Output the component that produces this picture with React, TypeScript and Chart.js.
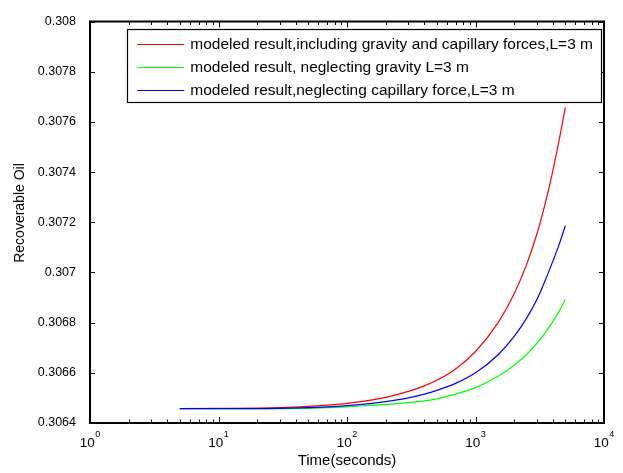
import React, { useEffect, useRef } from "react";
import { Chart, registerables } from "chart.js";

Chart.register(...registerables);

// ---- data ----
const timeSeconds = [5, 10, 20, 30, 50, 70, 100, 150, 200, 300, 400, 500, 700, 1000, 1500, 2000, 2500, 3000, 3500, 4000, 4500, 5000];

const oilFull = [
  0.306457, 0.306458, 0.306459, 0.306461, 0.306466, 0.306471, 0.306478, 0.30649, 0.306502, 0.306526, 0.306548,
  0.30657, 0.306615, 0.306685, 0.3068, 0.306915, 0.307032, 0.307152, 0.307278, 0.307406, 0.307533, 0.307658,
];

const oilNoGravity = [
  0.306457, 0.306457, 0.306457, 0.306457, 0.306458, 0.306461, 0.306464, 0.30647, 0.306474, 0.306481, 0.306488,
  0.306496, 0.306515, 0.306541, 0.306586, 0.30663, 0.306673, 0.306717, 0.306761, 0.306805, 0.306848, 0.306892,
];

const oilNoCapillary = [
  0.306457, 0.306457, 0.306457, 0.306458, 0.306461, 0.306464, 0.306469, 0.306477, 0.306485, 0.3065, 0.306515,
  0.30653, 0.306558, 0.3066, 0.306672, 0.306745, 0.306818, 0.306891, 0.30697, 0.307045, 0.307115, 0.307186,
];

const seriesLabels = [
  "modeled result,including gravity and capillary forces,L=3 m",
  "modeled result, neglecting gravity L=3 m",
  "modeled result,neglecting capillary force,L=3 m",
];
const seriesColors = ["#ff0000", "#00ff00", "#0000ff"];

const xDecadeExponents = [0, 1, 2, 3, 4];
const yMin = 0.3064;
const yMax = 0.308;
const yStep = 0.0002;
const xTitle = "Time(seconds)";
const yTitle = "Recoverable Oil";

const FONT = '"Liberation Sans", Arial, Helvetica, sans-serif';

const framePlugin = {
  id: "matlabFrame",
  afterDraw(chart: any) {
    const { ctx, chartArea: a, scales } = chart;
    const xs = scales.x;
    const ys = scales.y;
    ctx.save();

    // inward tick marks
    ctx.strokeStyle = "#000";
    ctx.lineWidth = 1;
    ctx.beginPath();
    for (const t of ys.ticks) {
      const y = Math.round(ys.getPixelForValue(t.value)) + 0.5;
      ctx.moveTo(a.left, y);
      ctx.lineTo(a.left + 5, y);
      ctx.moveTo(a.right, y);
      ctx.lineTo(a.right - 5, y);
    }
    for (let i = 0; i < xDecadeExponents.length; i++) {
      const e = xDecadeExponents[i];
      const base = Math.pow(10, e);
      const xm = Math.round(xs.getPixelForValue(base)) + 0.5;
      ctx.moveTo(xm, a.bottom);
      ctx.lineTo(xm, a.bottom - 6);
      ctx.moveTo(xm, a.top);
      ctx.lineTo(xm, a.top + 6);
      if (i < xDecadeExponents.length - 1) {
        for (let m = 2; m <= 9; m++) {
          const x = Math.round(xs.getPixelForValue(base * m)) + 0.5;
          ctx.moveTo(x, a.bottom);
          ctx.lineTo(x, a.bottom - 3.5);
          ctx.moveTo(x, a.top);
          ctx.lineTo(x, a.top + 3.5);
        }
      }
    }
    ctx.stroke();

    // axes box
    ctx.lineWidth = 2;
    ctx.strokeRect(a.left, a.top, a.right - a.left, a.bottom - a.top);

    // x tick labels 10^e
    ctx.fillStyle = "#000";
    ctx.textAlign = "left";
    ctx.textBaseline = "alphabetic";
    for (const e of xDecadeExponents) {
      const x = xs.getPixelForValue(Math.pow(10, e));
      ctx.font = `13.5px ${FONT}`;
      const w10 = ctx.measureText("10").width;
      ctx.font = `9px ${FONT}`;
      const wE = ctx.measureText(String(e)).width;
      const start = x - (w10 + wE + 0.5) / 2;
      ctx.font = `13.5px ${FONT}`;
      ctx.fillText("10", start, 447);
      ctx.font = `9px ${FONT}`;
      ctx.fillText(String(e), start + w10 + 0.5, 437);
    }

    // x title
    ctx.font = `15px ${FONT}`;
    ctx.textAlign = "center";
    ctx.fillText(xTitle, (a.left + a.right) / 2, 464.5);

    // y title
    ctx.save();
    ctx.font = `14px ${FONT}`;
    ctx.translate(20, 213);
    ctx.rotate(-Math.PI / 2);
    ctx.textAlign = "center";
    ctx.textBaseline = "middle";
    ctx.fillText(yTitle, 0, 0);
    ctx.restore();

    // legend
    ctx.font = `15.5px ${FONT}`;
    const labels = chart.data.datasets.map((d: any) => d.label);
    const textW = Math.max(...labels.map((l: string) => ctx.measureText(l).width));
    const padL = 10;
    const lineLen = 47;
    const gap = 6;
    const padR = 8;
    const rowH = 23;
    const boxW = padL + lineLen + gap + textW + padR;
    const boxRight = a.right - 3;
    const boxLeft = boxRight - boxW;
    const boxTop = a.top + 7.5;
    const boxH = 15 + rowH * (labels.length - 1) + 12;
    ctx.fillStyle = "#fff";
    ctx.fillRect(boxLeft, boxTop, boxW, boxH);
    ctx.strokeStyle = "#000";
    ctx.lineWidth = 1.2;
    ctx.strokeRect(Math.round(boxLeft) + 0.5, Math.round(boxTop) + 0.5, Math.round(boxW), Math.round(boxH));
    ctx.textAlign = "left";
    ctx.textBaseline = "middle";
    chart.data.datasets.forEach((d: any, i: number) => {
      const y = Math.round(boxTop + 15 + i * rowH) + 0.5;
      ctx.strokeStyle = d.borderColor;
      ctx.lineWidth = 1;
      ctx.beginPath();
      ctx.moveTo(boxLeft + padL, y);
      ctx.lineTo(boxLeft + padL + lineLen, y);
      ctx.stroke();
      ctx.fillStyle = "#000";
      ctx.fillText(d.label, boxLeft + padL + lineLen + gap, y);
    });

    ctx.restore();
  },
};

export default function App() {
  const canvasRef = useRef<HTMLCanvasElement | null>(null);

  useEffect(() => {
    const canvas = canvasRef.current;
    if (!canvas) return;
    const series = [oilFull, oilNoGravity, oilNoCapillary];
    const chart = new Chart(canvas, {
      type: "line",
      data: {
        datasets: series.map((vals, i) => ({
          label: seriesLabels[i],
          data: timeSeconds.map((t, j) => ({ x: t, y: vals[j] })),
          borderColor: seriesColors[i],
          backgroundColor: seriesColors[i],
          borderWidth: 1.2,
          pointRadius: 0,
          fill: false,
          cubicInterpolationMode: "monotone" as const,
          order: 3 - i,
        })),
      },
      options: {
        animation: false,
        responsive: false,
        maintainAspectRatio: false,
        devicePixelRatio: 1,
        layout: { padding: { left: 0, right: 19, top: 16, bottom: 0 } },
        plugins: {
          legend: { display: false },
          tooltip: { enabled: false },
          title: { display: false },
        },
        scales: {
          x: {
            type: "logarithmic",
            min: 1,
            max: 10000,
            position: "bottom",
            grid: { display: false, drawTicks: false },
            border: { display: false },
            ticks: { display: false },
            afterFit: (s: any) => {
              s.height = 50;
            },
          },
          y: {
            type: "linear",
            min: yMin,
            max: yMax,
            grid: { display: false, drawTicks: false },
            border: { display: false },
            ticks: {
              stepSize: yStep,
              padding: 14,
              color: "#000",
              font: { family: FONT, size: 12.5 },
              callback: (v: any) => String(parseFloat(Number(v).toFixed(4))),
            },
            afterFit: (s: any) => {
              s.width = 90;
            },
          },
        },
      },
      plugins: [framePlugin],
    });
    return () => chart.destroy();
  }, []);

  return (
    <div style={{ position: "absolute", left: 0, top: 0, width: 623, height: 473, background: "#fff" }}>
      <canvas ref={canvasRef} width={623} height={473} style={{ display: "block", width: 623, height: 473 }} />
    </div>
  );
}
